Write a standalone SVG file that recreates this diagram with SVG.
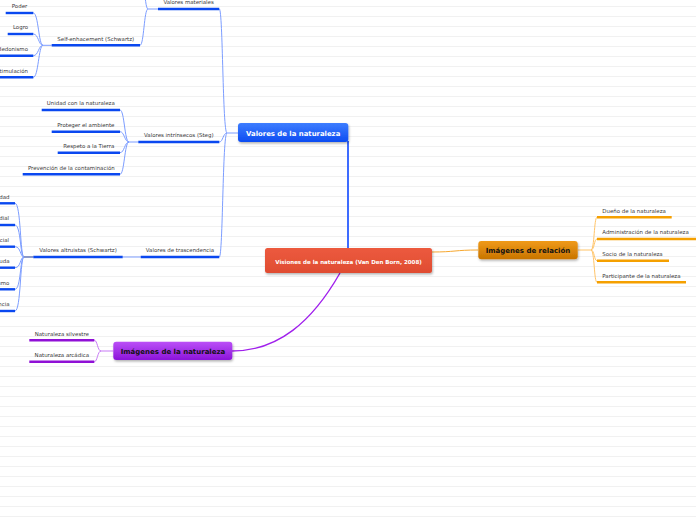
<svg xmlns="http://www.w3.org/2000/svg" width="696" height="520" viewBox="0 0 696 520">
<defs>
  <pattern id="bg" width="696" height="10" patternUnits="userSpaceOnUse">
    <rect x="0" y="6" width="696" height="1" fill="#f1f1f1"/>
  </pattern>
  <linearGradient id="gBlue" x1="0" y1="0" x2="0" y2="1">
    <stop offset="0" stop-color="#3d7dff"/>
    <stop offset="1" stop-color="#0d4cf2"/>
  </linearGradient>
  <linearGradient id="gRed" x1="0" y1="0" x2="0" y2="1">
    <stop offset="0" stop-color="#ec5a3e"/>
    <stop offset="1" stop-color="#e04c32"/>
  </linearGradient>
  <linearGradient id="gOrange" x1="0" y1="0" x2="0" y2="1">
    <stop offset="0" stop-color="#f09a18"/>
    <stop offset="1" stop-color="#c87400"/>
  </linearGradient>
  <linearGradient id="gPurple" x1="0" y1="0" x2="0" y2="1">
    <stop offset="0" stop-color="#bb50f7"/>
    <stop offset="1" stop-color="#8c14da"/>
  </linearGradient>
  <filter id="sh" x="-10%" y="-20%" width="120%" height="160%">
    <feDropShadow dx="0.8" dy="1.5" stdDeviation="0.9" flood-color="#000" flood-opacity="0.3"/>
  </filter>
</defs>
<style>
  .lbl{font-family:"DejaVu Sans",Verdana,sans-serif;font-size:5.45px;fill:#3a3a3a}
  .mid{text-anchor:middle}
  .end{text-anchor:end}
  .ttl{font-family:"DejaVu Sans",Verdana,sans-serif;font-weight:bold;text-anchor:middle}
  .ulB{stroke:#0a48f0;stroke-width:2.4;fill:none}
  .ulO{stroke:#f5a000;stroke-width:2.4;fill:none}
  .ulP{stroke:#9010d6;stroke-width:2.4;fill:none}
  .cB{stroke:#7c9dff;stroke-width:1;fill:none}
  .cO{stroke:#ffc468;stroke-width:1;fill:none}
  .cP{stroke:#c77af5;stroke-width:1;fill:none}
</style>
<rect width="696" height="520" fill="#ffffff"/>
<rect width="696" height="520" fill="url(#bg)"/>

<g id="connectors">
  <!-- main branches -->
  <path d="M348,141 L348,248" stroke="#2a5cff" stroke-width="1.8" fill="none"/>
  <path d="M432,252 C455,252 455,250 478,250" stroke="#f7a830" stroke-width="1" fill="none"/>
  <path d="M340,273 C312,322 278,351 232,351" stroke="#a020ec" stroke-width="1.4" fill="none"/>
  <!-- blue: Valores de la naturaleza children -->
  <path class="cB" d="M238,133 L227,133"/>
  <path class="cB" d="M227,133 C222.5,133 223,9 219.3,9"/>
  <path class="cB" d="M227,133 C223,133 223,142 219.3,142"/>
  <path class="cB" d="M227,133 C222.5,133 223,257 219.3,257"/>
  <!-- Valores materiales -->
  <path class="cB" d="M158,9 L148,9"/>
  <path class="cB" d="M148,9 C144,9 144,45.3 140,45.3"/>
  <path class="cB" d="M148,9 C144,9 144,-40 140,-40"/>
  <!-- Self-enhacement -->
  <path class="cB" d="M51.7,45.3 L43,45.3"/>
  <path class="cB" d="M43,45.3 C38.5,45.3 38.5,13 33.3,13"/>
  <path class="cB" d="M43,45.3 C38.5,45.3 38.5,34 33.3,34"/>
  <path class="cB" d="M43,45.3 C38.5,45.3 38.5,55.7 33.3,55.7"/>
  <path class="cB" d="M43,45.3 C38.5,45.3 38.5,77.3 33.3,77.3"/>
  <!-- Valores intrinsecos -->
  <path class="cB" d="M138.3,142 L129,142"/>
  <path class="cB" d="M129,142 C124.5,142 124.5,110 120,110"/>
  <path class="cB" d="M129,142 C124.5,142 124.5,131.7 120,131.7"/>
  <path class="cB" d="M129,142 C124.5,142 124.5,152.7 120,152.7"/>
  <path class="cB" d="M129,142 C124.5,142 124.5,174.3 120,174.3"/>
  <!-- Valores de trascendencia -> altruistas -->
  <path class="cB" d="M140.7,257 L122.7,257"/>
  <path d="M33.3,257 L24,257" stroke="#1c3a9a" stroke-width="1" fill="none"/>
  <path class="cB" d="M24,257 C20,257 21,203.3 15,203.3"/>
  <path class="cB" d="M24,257 C20,257 21,225 15,225"/>
  <path class="cB" d="M24,257 C20,257 21,246.7 15,246.7"/>
  <path class="cB" d="M24,257 C20,257 21,267.7 15,267.7"/>
  <path class="cB" d="M24,257 C20,257 21,289.3 15,289.3"/>
  <path class="cB" d="M24,257 C20,257 21,311 15,311"/>
  <!-- orange -->
  <path class="cO" d="M577.7,250 L591,250"/>
  <path class="cO" d="M591,250 C594.5,250 594,217.3 597,217.3"/>
  <path class="cO" d="M591,250 C594.5,250 594,239 597,239"/>
  <path class="cO" d="M591,250 C594.5,250 594,260.7 597,260.7"/>
  <path class="cO" d="M591,250 C594.5,250 594,282.3 597,282.3"/>
  <!-- purple -->
  <path class="cP" d="M113.3,351 L101,351"/>
  <path class="cP" d="M101,351 C97.5,351 97.5,340.3 94.3,340.3"/>
  <path class="cP" d="M101,351 C97.5,351 97.5,361.7 94.3,361.7"/>
</g>

<g id="n-central">
  <rect x="265" y="248" width="167" height="25" rx="2.5" fill="url(#gRed)" filter="url(#sh)"/>
  <text class="ttl" x="348.5" y="263.5" font-size="5.5" fill="#ffffff">Visiones de la naturaleza (Van Den Born, 2008)</text>
</g>

<g id="n-valores">
  <rect x="238" y="123" width="110.3" height="19" rx="3" fill="url(#gBlue)" filter="url(#sh)"/>
  <text class="ttl" x="293.2" y="135.8" font-size="6.9" fill="#ffffff">Valores de la naturaleza</text>
</g>

<g id="n-relacion">
  <rect x="478.3" y="241" width="99.4" height="18.3" rx="3" fill="url(#gOrange)" filter="url(#sh)"/>
  <text class="ttl" x="528" y="253" font-size="7" fill="#111111">Imágenes de relación</text>
</g>

<g id="n-imagenes">
  <rect x="113.3" y="341.7" width="119" height="18.3" rx="3" fill="url(#gPurple)" filter="url(#sh)"/>
  <text class="ttl" x="173" y="353.8" font-size="7" fill="#111111">Imágenes de la naturaleza</text>
</g>

<g id="n-materiales">
  <path class="ulB" d="M158,9 L219.3,9"/>
  <text class="lbl mid" x="188.6" y="4">Valores materiales</text>
</g>
<g id="n-self">
  <path class="ulB" d="M51.7,45.3 L140,45.3"/>
  <text class="lbl mid" x="95.8" y="40.5">Self-enhacement (Schwartz)</text>
</g>
<g id="n-poder">
  <path class="ulB" d="M5.7,13 L33.3,13"/>
  <text class="lbl mid" x="19.5" y="8.2">Poder</text>
</g>
<g id="n-logro">
  <path class="ulB" d="M7.7,34 L33.3,34"/>
  <text class="lbl mid" x="20.5" y="29.2">Logro</text>
</g>
<g id="n-hedonismo">
  <path class="ulB" d="M-10,55.7 L33.3,55.7"/>
  <text class="lbl end" x="28" y="50.9">Hedonismo</text>
</g>
<g id="n-estimulacion">
  <path class="ulB" d="M-10,77.3 L33.3,77.3"/>
  <text class="lbl end" x="28" y="72.5">Estimulación</text>
</g>

<g id="n-intrinsecos">
  <path class="ulB" d="M138.3,142 L219.3,142"/>
  <text class="lbl mid" x="178.8" y="137.2">Valores intrínsecos (Steg)</text>
</g>
<g id="n-unidad">
  <path class="ulB" d="M41.7,110 L120,110"/>
  <text class="lbl mid" x="80.8" y="105.2">Unidad con la naturaleza</text>
</g>
<g id="n-proteger">
  <path class="ulB" d="M51.7,131.7 L120,131.7"/>
  <text class="lbl mid" x="85.8" y="126.9">Proteger el ambiente</text>
</g>
<g id="n-respeto">
  <path class="ulB" d="M57.7,152.7 L120,152.7"/>
  <text class="lbl mid" x="88.8" y="147.9">Respeto a la Tierra</text>
</g>
<g id="n-prevencion">
  <path class="ulB" d="M22.7,174.3 L120,174.3"/>
  <text class="lbl mid" x="71.3" y="169.5">Prevención de la contaminación</text>
</g>

<g id="n-trascendencia">
  <path class="ulB" d="M140.7,257 L219.3,257"/>
  <text class="lbl mid" x="180" y="252.2">Valores de trascendencia</text>
</g>
<g id="n-altruistas">
  <path class="ulB" d="M33.3,257 L122.7,257"/>
  <text class="lbl mid" x="78" y="252.2">Valores altruistas (Schwartz)</text>
</g>
<g id="n-a1">
  <path class="ulB" d="M-10,203.3 L15,203.3"/>
  <text class="lbl end" x="9.5" y="198.5">dad</text>
</g>
<g id="n-a2">
  <path class="ulB" d="M-10,225 L15,225"/>
  <text class="lbl end" x="9" y="220.2">dial</text>
</g>
<g id="n-a3">
  <path class="ulB" d="M-10,246.7 L15,246.7"/>
  <text class="lbl end" x="9" y="241.9">cial</text>
</g>
<g id="n-a4">
  <path class="ulB" d="M-10,267.7 L15,267.7"/>
  <text class="lbl end" x="9.5" y="262.9">uda</text>
</g>
<g id="n-a5">
  <path class="ulB" d="M-10,289.3 L15,289.3"/>
  <text class="lbl end" x="9.3" y="284.5">umo</text>
</g>
<g id="n-a6">
  <path class="ulB" d="M-10,311 L15,311"/>
  <text class="lbl end" x="9.5" y="306.2">ncia</text>
</g>

<g id="n-dueno">
  <path class="ulO" d="M597,217.3 L671.7,217.3"/>
  <text class="lbl" x="602.3" y="212.5">Dueño de la naturaleza</text>
</g>
<g id="n-administracion">
  <path class="ulO" d="M597,239 L696,239"/>
  <text class="lbl" x="602.3" y="234.2">Administración de la naturaleza</text>
</g>
<g id="n-socio">
  <path class="ulO" d="M597,260.7 L669,260.7"/>
  <text class="lbl" x="602.3" y="255.9">Socio de la naturaleza</text>
</g>
<g id="n-participante">
  <path class="ulO" d="M597,282.3 L686,282.3"/>
  <text class="lbl" x="602.3" y="277.5">Participante de la naturaleza</text>
</g>

<g id="n-silvestre">
  <path class="ulP" d="M29.3,340.3 L94.3,340.3"/>
  <text class="lbl mid" x="61.8" y="335.5">Naturaleza silvestre</text>
</g>
<g id="n-arcadica">
  <path class="ulP" d="M29.3,361.7 L94.3,361.7"/>
  <text class="lbl mid" x="61.8" y="356.9">Naturaleza arcádica</text>
</g>
</svg>
